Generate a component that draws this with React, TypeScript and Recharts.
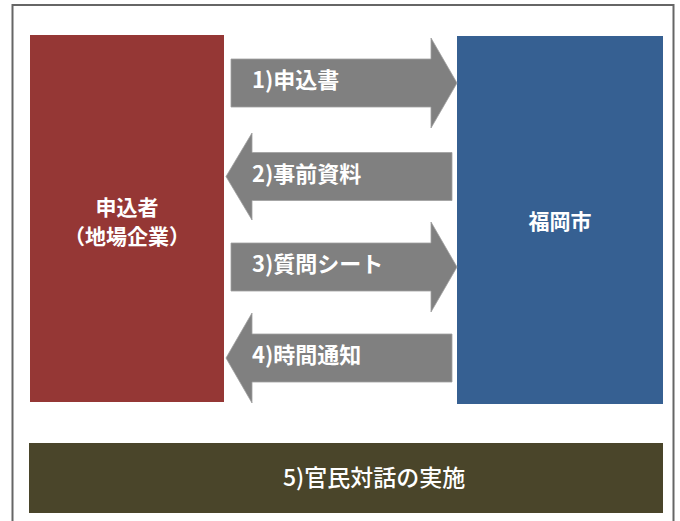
import React from 'react';
import { ComposedChart, XAxis, YAxis, ReferenceArea, Scatter } from 'recharts';

// diagram space: one unit per pixel, y grows downwards
const WIDTH = 680;
const HEIGHT = 521;

const boxLeft = [30, 457];
const boxRight = [224, 663];
const boxTop = [35, 36];
const boxBottom = [402, 404];
const boxColors = ['#953735', '#366092'];

const arrowDirs = ['right', 'left', 'right', 'left'];
const arrowLeft = [231, 226, 231, 226];
const arrowRight = [457, 452, 457, 452];
const arrowTop = [38, 133, 222, 313];
const arrowBottom = [128, 220, 312, 403];

const bandRect = [29, 443, 663, 513];

const labelText = [
  '申込者',
  '（地場企業）',
  '福岡市',
  '1)申込書',
  '2)事前資料',
  '3)質問シート',
  '4)時間通知',
  '5)官民対話の実施',
];
const labelX = [127, 127, 560, 252, 252, 252, 252, 283];
const labelY = [206, 235, 220, 78, 172, 262, 353, 476];
const labelAnchor = ['middle', 'middle', 'middle', 'start', 'start', 'start', 'start', 'start'];
const labelSize = [21, 21, 21, 22, 22, 22, 22, 23];
const labelWeight = [700, 700, 700, 700, 700, 700, 700, 500];

const labelData = labelText.map((text, i) => ({
  x: labelX[i],
  y: labelY[i],
  text,
  anchor: labelAnchor[i],
  size: labelSize[i],
  weight: labelWeight[i],
}));

const FONT = "'Noto Sans CJK JP', 'Noto Sans', sans-serif";

function ArrowShape(props: any) {
  const { x, y, width, height, dir } = props;
  const bodyH = 48;
  const headL = 26;
  const bt = y + (height - bodyH) / 2;
  const bb = bt + bodyH;
  const mid = y + height / 2;
  let pts: number[][];
  if (dir === 'right') {
    const hx = x + width - headL;
    pts = [[x, bt], [hx, bt], [hx, y], [x + width, mid], [hx, y + height], [hx, bb], [x, bb]];
  } else {
    const hx = x + headL;
    pts = [[x + width, bt], [hx, bt], [hx, y], [x, mid], [hx, y + height], [hx, bb], [x + width, bb]];
  }
  return (
    <polygon
      points={pts.map((p) => p.join(',')).join(' ')}
      fill="#808080"
      stroke="#a0a0a0"
      strokeWidth={0.8}
    />
  );
}

function LabelShape(props: any) {
  const { cx, cy, payload } = props;
  return (
    <text
      x={cx}
      y={cy}
      textAnchor={payload.anchor}
      dominantBaseline="central"
      fill="#ffffff"
      fontFamily={FONT}
      fontWeight={payload.weight}
      fontSize={payload.size}
    >
      {payload.text}
    </text>
  );
}

export default function App() {
  return (
    <div style={{ position: 'fixed', left: 0, top: 0, background: '#fff' }}>
      <ComposedChart width={WIDTH} height={HEIGHT} margin={{ top: 0, right: 0, bottom: 0, left: 0 }}>
        <XAxis type="number" dataKey="x" domain={[0, WIDTH]} hide allowDataOverflow />
        <YAxis type="number" dataKey="y" domain={[0, HEIGHT]} reversed hide allowDataOverflow />

        <ReferenceArea
          x1={12.5}
          x2={673.5}
          y1={5}
          y2={HEIGHT + 20}
          ifOverflow="visible"
          fill="none"
          fillOpacity={0}
          stroke="#666666"
          strokeWidth={2}
        />

        {boxColors.map((c, i) => (
          <ReferenceArea
            key={`box-${i}`}
            x1={boxLeft[i]}
            x2={boxRight[i]}
            y1={boxTop[i]}
            y2={boxBottom[i]}
            fill={c}
            fillOpacity={1}
            stroke="none"
          />
        ))}

        {arrowDirs.map((d, i) => (
          <ReferenceArea
            key={`arrow-${i}`}
            x1={arrowLeft[i]}
            x2={arrowRight[i]}
            y1={arrowTop[i]}
            y2={arrowBottom[i]}
            shape={(p: any) => <ArrowShape {...p} dir={d} />}
          />
        ))}

        <ReferenceArea
          x1={bandRect[0]}
          x2={bandRect[2]}
          y1={bandRect[1]}
          y2={bandRect[3]}
          fill="#4a452a"
          fillOpacity={1}
          stroke="none"
        />

        <Scatter data={labelData} dataKey="y" shape={LabelShape} isAnimationActive={false} />
      </ComposedChart>
    </div>
  );
}
